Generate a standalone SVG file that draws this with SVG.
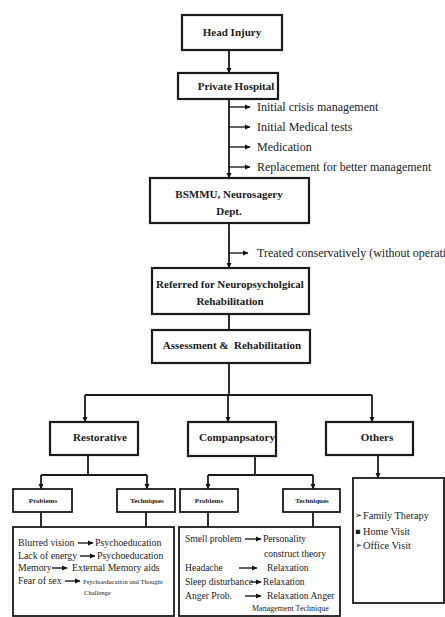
<svg xmlns="http://www.w3.org/2000/svg" width="445" height="617" viewBox="0 0 445 617">
<defs>
<marker id="ah" markerWidth="6" markerHeight="6" refX="5" refY="3" orient="auto" markerUnits="userSpaceOnUse">
<path d="M0,0.5 L5.5,3 L0,5.5 Z" fill="#111"/>
</marker>
<style>
.box{fill:#fff;stroke:#1a1a1a;stroke-width:2.2}
.sbox{fill:#fff;stroke:#1a1a1a;stroke-width:1.8}
.ln{fill:none;stroke:#1a1a1a;stroke-width:1.8}
.la{fill:none;stroke:#1a1a1a;stroke-width:1.8;marker-end:url(#ah)}
.sa{fill:none;stroke:#1a1a1a;stroke-width:1.4;marker-end:url(#ah)}
.t{font-family:"Liberation Serif","Times New Roman",serif;font-weight:bold;font-size:11px;fill:#1a1a1a;text-anchor:middle}
.st{font-family:"Liberation Serif","Times New Roman",serif;font-size:12px;fill:#1a1a1a}
.lt{font-family:"Liberation Serif","Times New Roman",serif;font-size:9.8px;fill:#1a1a1a}
.ot{font-family:"Liberation Serif","Times New Roman",serif;font-size:10.3px;fill:#1a1a1a}
.ct{font-family:"Liberation Serif","Times New Roman",serif;font-size:9.6px;fill:#1a1a1a}
.tiny{font-family:"Liberation Serif","Times New Roman",serif;font-weight:bold;font-size:7px;fill:#1a1a1a;text-anchor:middle}
.bul{font-family:"DejaVu Sans",sans-serif;font-size:8.5px;fill:#1a1a1a}
</style>
</defs>
<rect width="445" height="617" fill="#fff"/>

<g id="connectors">
<path class="la" d="M229,50 V73"/>
<path class="la" d="M229,99 V178"/>
<path class="sa" d="M229,107 H250"/>
<path class="sa" d="M229,127 H250"/>
<path class="sa" d="M229,147 H250"/>
<path class="sa" d="M229,167 H250"/>
<path class="la" d="M229,223 V268"/>
<path class="sa" d="M229,253 H248"/>
<path class="ln" d="M229,314 V330"/>
<path class="ln" d="M229,363 V395"/>
<path class="ln" d="M85,395 H372"/>
<path class="la" d="M85,395 V422"/>
<path class="la" d="M228,395 V422"/>
<path class="la" d="M372,395 V422"/>
<path class="ln" d="M88,455 V475 M41,475 H147"/>
<path class="la" d="M41,475 V489"/>
<path class="la" d="M147,475 V489"/>
<path class="ln" d="M255,456 V475 M208,475 H313"/>
<path class="la" d="M208,475 V489"/>
<path class="la" d="M313,475 V489"/>
<path class="la" d="M378,455 V478"/>
<path class="ln" d="M41,512 V527 M146,512 V527 M208,512 V527 M313,512 V527"/>
</g>

<g id="head-injury"><rect class="box" x="182" y="15" width="100" height="35"/><text class="t" x="232" y="36">Head Injury</text></g>
<g id="private-hospital"><rect class="box" x="178" y="73" width="100" height="26"/><text class="t" x="236" y="90">Private Hospital</text></g>
<g id="ph-items">
<text class="st" x="257" y="111">Initial crisis management</text>
<text class="st" x="257" y="131">Initial Medical tests</text>
<text class="st" x="257" y="151">Medication</text>
<text class="st" x="257" y="171">Replacement for better management</text>
</g>
<g id="bsmmu"><rect class="box" x="150" y="178" width="159" height="45"/><text class="t" x="229" y="198">BSMMU, Neurosagery</text><text class="t" x="229" y="215">Dept.</text></g>
<g id="treated"><text class="st" x="257" y="257">Treated conservatively (without operati</text></g>
<g id="referred"><rect class="box" x="152" y="268" width="157" height="46"/><text class="t" x="230" y="288">Referred for Neuropsycholgical</text><text class="t" x="230" y="305">Rehabilitation</text></g>
<g id="assessment"><rect class="box" x="152" y="330" width="158" height="33"/><text class="t" x="232" y="349" xml:space="preserve">Assessment &amp;  Rehabilitation</text></g>

<g id="restorative"><rect class="box" x="50" y="422" width="88" height="33"/><text class="t" x="100" y="441">Restorative</text></g>
<g id="compensatory"><rect class="box" x="188" y="422" width="88" height="34"/><text class="t" x="237" y="441">Companpsatory</text></g>
<g id="others"><rect class="box" x="326" y="422" width="87" height="33"/><text class="t" x="377" y="441">Others</text></g>

<g id="rest-problems"><rect class="sbox" x="13" y="489" width="59" height="23"/><text class="tiny" x="43" y="503">Problems</text></g>
<g id="rest-techniques"><rect class="sbox" x="117" y="489" width="58" height="23"/><text class="tiny" x="147" y="503">Techniques</text></g>
<g id="comp-problems"><rect class="sbox" x="180" y="489" width="58" height="23"/><text class="tiny" x="209" y="503">Problems</text></g>
<g id="comp-techniques"><rect class="sbox" x="283" y="489" width="57" height="23"/><text class="tiny" x="312" y="503">Techniques</text></g>

<g id="rest-list">
<rect class="sbox" x="13" y="527" width="161" height="89"/>
<text class="lt" x="18" y="546">Blurred vision</text><path class="sa" d="M78,543 H93"/><text class="lt" x="95" y="546">Psychoeducation</text>
<text class="lt" x="18" y="559">Lack of energy</text><path class="sa" d="M80,556 H95"/><text class="lt" x="97" y="559">Psychoeducation</text>
<text class="lt" x="18" y="571">Memory</text><path class="sa" d="M52,568 H67"/><text class="lt" x="72" y="571">External Memory aids</text>
<text class="lt" x="18" y="584">Fear of sex</text><path class="sa" d="M65,581 H80"/><text class="lt" x="83" y="584" style="font-size:6.6px">Psychoeducation and Thought</text>
<text class="lt" x="84" y="595" style="font-size:6.6px">Challenge</text>
</g>

<g id="comp-list">
<rect class="sbox" x="179" y="527" width="161" height="89"/>
<text class="ct" x="185" y="542">Smell problem</text><path class="sa" d="M245,539 H261"/><text class="ct" x="263" y="542">Personality</text>
<text class="ct" x="264" y="557">construct theory</text>
<text class="ct" x="185" y="571">Headache</text><path class="sa" d="M239,568 H257"/><text class="ct" x="267" y="571">Relaxation</text>
<text class="ct" x="185" y="585">Sleep disturbance</text><path class="sa" d="M251,582 H261"/><text class="ct" x="263" y="585">Relaxation</text>
<text class="ct" x="185" y="599">Anger Prob.</text><path class="sa" d="M245,596 H261"/><text class="ct" x="267" y="599">Relaxation Anger</text>
<text class="ct" x="252" y="611" style="font-size:8px">Management Technique</text>
</g>

<g id="others-list">
<rect class="sbox" x="353" y="478" width="91" height="125"/>
<text class="bul" x="355" y="518">➢</text><text class="ot" x="363" y="519">Family Therapy</text>
<text class="bul" x="355" y="534">▪</text><text class="ot" x="363" y="535">Home Visit</text>
<text class="bul" x="355" y="548">➢</text><text class="ot" x="363" y="549">Office Visit</text>
</g>
</svg>
